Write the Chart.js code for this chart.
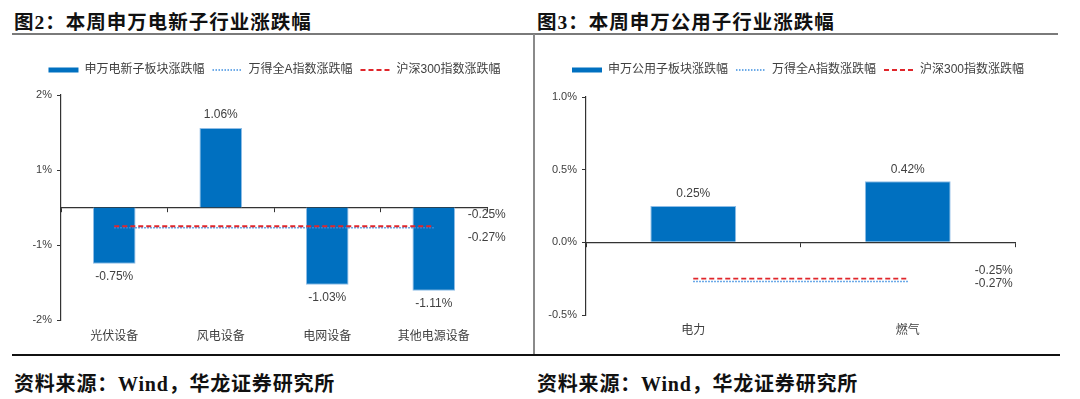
<!DOCTYPE html>
<html>
<head>
<meta charset="utf-8">
<script src="https://cdn.jsdelivr.net/npm/chart.js@4/dist/chart.umd.min.js"></script>
<style>
  body { margin: 0; background: #fff; width: 1080px; height: 399px; position: relative; overflow: hidden; }
  .ttl { position: absolute; font: bold 19.5px "Liberation Serif", "Noto Sans CJK SC", serif; color: #111; letter-spacing: 1px; white-space: nowrap; }
  .src { position: absolute; font: bold 20px "Liberation Serif", "Noto Sans CJK SC", serif; color: #111; letter-spacing: 0.8px; white-space: nowrap; }
  .rule { position: absolute; }
  canvas { position: absolute; }
</style>
</head>
<body>
<div class="ttl" style="left:14px; top:6px;">图2：本周申万电新子行业涨跌幅</div>
<div class="ttl" style="left:537px; top:6px;">图3：本周申万公用子行业涨跌幅</div>
<div class="rule" style="left:12px; top:33px; width:1046px; height:2px; background:#7a7a7a;"></div>
<div class="rule" style="left:533px; top:34px; width:2px; height:321px; background:#8a8a8a;"></div>
<div class="rule" style="left:12px; top:354px; width:1048px; height:2px; background:#111;"></div>
<div class="src" style="left:14px; top:368px;">资料来源：Wind，华龙证券研究所</div>
<div class="src" style="left:537px; top:368px;">资料来源：Wind，华龙证券研究所</div>
<canvas id="c1" width="533" height="318" style="left:0; top:36px;"></canvas>
<canvas id="c2" width="533" height="318" style="left:537px; top:36px;"></canvas>
<script>
// 图2 电新子行业
const cats1 = ['光伏设备', '风电设备', '电网设备', '其他电源设备'];
const sector1 = [-0.75, 1.06, -1.03, -1.11];
const windA1 = [-0.27, -0.27, -0.27, -0.27];
const hs300_1 = [-0.25, -0.25, -0.25, -0.25];
const yTicks1 = [-1.5, -0.5, 0.5, 1.5];
const yLabels1 = ['-2%', '-1%', '1%', '2%'];

// 图3 公用子行业
const cats2 = ['电力', '燃气'];
const sector2 = [0.25, 0.42];
const windA2 = [-0.27, -0.27];
const hs300_2 = [-0.25, -0.25];
const yTicks2 = [-0.5, 0, 0.5, 1.0];
const yLabels2 = ['-0.5%', '0.0%', '0.5%', '1.0%'];

const FONT = '"Liberation Sans", "Noto Sans CJK SC", sans-serif';
const TXT = '#404040';
const BAR = '#0070C0';

// value labels on bars, and at the end of the two index lines
const valueLabels = {
  id: 'valueLabels',
  afterDatasetsDraw(chart, args, opts) {
    const ctx = chart.ctx;
    ctx.save();
    ctx.font = '12px ' + FONT;
    ctx.fillStyle = TXT;
    ctx.textBaseline = 'middle';
    chart.data.datasets.forEach((ds, di) => {
      const meta = chart.getDatasetMeta(di);
      meta.data.forEach((el, i) => {
        const v = ds.data[i];
        const txt = v.toFixed(2) + '%';
        if (meta.type === 'bar') {
          ctx.textAlign = 'center';
          ctx.fillText(txt, el.x, v >= 0 ? el.y - opts.barGap : el.y + opts.barGap);
        } else if (i === ds.data.length - 1) {
          ctx.textAlign = 'left';
          ctx.fillText(txt, el.x + opts.lineDx, el.y + opts.lineDy[di]);
        }
      });
    });
    ctx.restore();
  }
};

// extra room under the legend, and a sideways nudge of the legend row
const legendPlace = {
  id: 'legendPlace',
  beforeUpdate(chart, args, opts) {
    const lg = chart.legend;
    if (lg && !lg._gapPatched) {
      const fit = lg.fit;
      lg.fit = function () { fit.call(this); this.height += opts.gap; };
      lg._gapPatched = true;
    }
  },
  afterLayout(chart, args, opts) {
    chart.legend.left += opts.dx;
    chart.legend.right += opts.dx;
  }
};

function makeChart(id, cats, sector, windA, hs300, sectorName, yTicks, yLabels, yMin, yMax, o) {
  return new Chart(document.getElementById(id), {
    type: 'bar',
    data: {
      labels: cats,
      datasets: [
        {
          label: sectorName,
          data: sector,
          backgroundColor: BAR,
          borderColor: '#8fbde6',
          borderWidth: 1,
          barPercentage: 0.4,
          categoryPercentage: 1,
          order: 3
        },
        {
          type: 'line',
          label: '万得全A指数涨跌幅',
          data: windA,
          borderColor: '#3d8ee0',
          borderWidth: 1.5,
          borderDash: [1.5, 1.5],
          pointRadius: 0,
          order: 2
        },
        {
          type: 'line',
          label: '沪深300指数涨跌幅',
          data: hs300,
          borderColor: '#e0262b',
          borderWidth: 1.8,
          borderDash: [5, 3],
          pointRadius: 0,
          order: 1
        }
      ]
    },
    options: {
      responsive: false,
      animation: false,
      layout: { padding: { top: o.padTop, right: o.padRight, bottom: 0, left: 0 } },
      plugins: {
        tooltip: { enabled: false },
        legend: {
          labels: {
            color: TXT,
            font: { size: 12, family: FONT },
            usePointStyle: true,
            pointStyleWidth: 30,
            padding: 8,
            sort: (a, b) => a.datasetIndex - b.datasetIndex,
            generateLabels(chart) {
              const items = Chart.defaults.plugins.legend.labels.generateLabels(chart);
              items.forEach(it => {
                const ds = chart.data.datasets[it.datasetIndex];
                it.pointStyle = 'line';
                if (it.datasetIndex === 0) {
                  it.lineWidth = 5;
                  it.strokeStyle = BAR;
                } else {
                  it.lineWidth = ds.borderWidth;
                  it.strokeStyle = ds.borderColor;
                  it.lineDash = ds.borderDash;
                }
              });
              return items;
            }
          }
        },
        legendPlace: o.legend,
        valueLabels: o.labels
      },
      scales: {
        x: {
          offset: true,
          border: { display: false },
          grid: { display: false, drawTicks: false },
          ticks: { color: TXT, font: { size: 12, family: FONT }, padding: o.xPad },
          afterFit(s) { s.height = o.xHeight; }
        },
        x2: {
          type: 'category',
          position: { y: 0 },
          offset: true,
          border: { display: true, color: '#333', width: 1.2 },
          grid: { display: true, offset: true, drawOnChartArea: false, drawTicks: true, tickLength: 4, color: '#333' },
          ticks: { display: false }
        },
        y: {
          min: yMin,
          max: yMax,
          border: { display: true, color: '#333', width: 1.2 },
          grid: { display: true, drawOnChartArea: false, drawTicks: true, tickLength: 4, color: '#333' },
          afterBuildTicks(s) { s.ticks = yTicks.map(v => ({ value: v })); },
          ticks: {
            color: TXT,
            font: { size: 11, family: FONT },
            padding: 5,
            callback: (v, i) => yLabels[i]
          },
          afterFit(s) { s.width = o.yWidth; }
        }
      }
    },
    plugins: [legendPlace, valueLabels]
  });
}

makeChart('c1', cats1, sector1, windA1, hs300_1, '申万电新子板块涨跌幅', yTicks1, yLabels1, -1.5, 1.5, {
  padTop: 20, padRight: 46, xPad: 9, xHeight: 34, yWidth: 61,
  legend: { gap: 9, dx: 31 },
  labels: { barGap: 13, lineDx: 34, lineDy: [0, 10, -12] }
});
makeChart('c2', cats2, sector2, windA2, hs300_2, '申万公用子板块涨跌幅', yTicks2, yLabels2, -0.5, 1.0, {
  padTop: 20, padRight: 55, xPad: 8, xHeight: 39, yWidth: 49,
  legend: { gap: 11, dx: 22 },
  labels: { barGap: 12, lineDx: 67, lineDy: [0, 2, -8] }
});
</script>
</body>
</html>
